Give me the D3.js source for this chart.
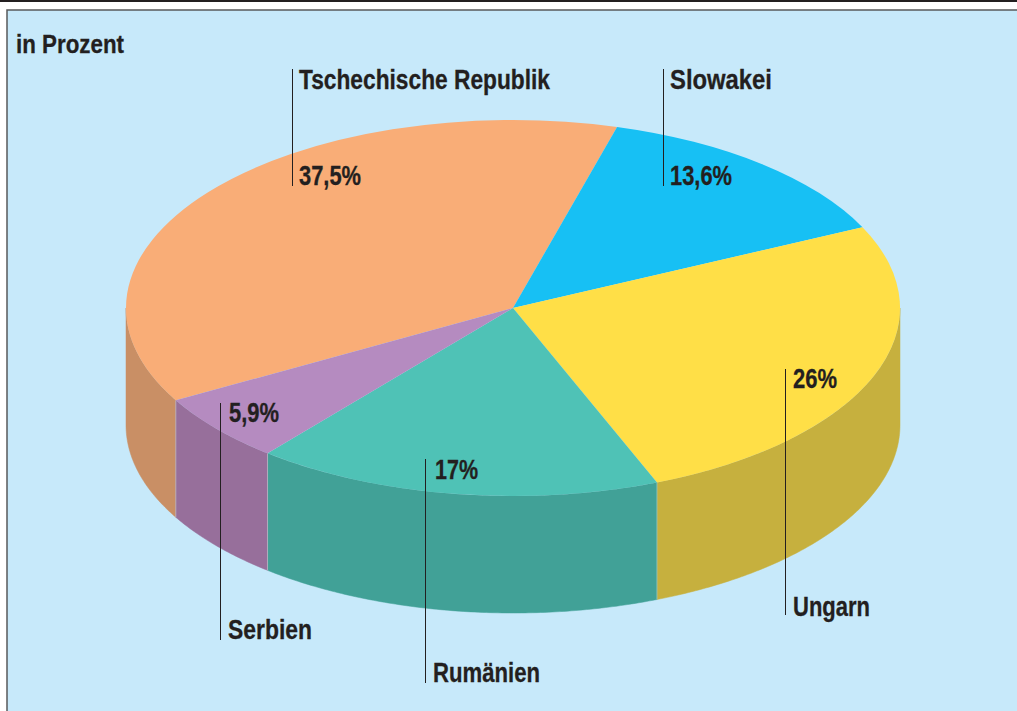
<!DOCTYPE html>
<html>
<head>
<meta charset="utf-8">
<script src="https://cdnjs.cloudflare.com/ajax/libs/d3/7.8.5/d3.min.js"></script>
<style>
html, body { margin: 0; padding: 0; background: #fff; }
svg { display: block; }
text { font-family: "Liberation Sans", sans-serif; font-weight: bold; fill: #231f20; stroke: #231f20; stroke-width: 0.3; }
</style>
</head>
<body>
<div id="chart"></div>
<script>
const categories = ["Tschechische Republik", "Slowakei", "Ungarn", "Rumänien", "Serbien"];
const shares = [37.5, 13.6, 26, 17, 5.9];
const shareLabels = ["37,5%", "13,6%", "26%", "17%", "5,9%"];
const unitLabel = "in Prozent";

const topColors = ["#f9ad77", "#17c0f4", "#ffdf47", "#4fc2b6", "#b58bc0"];
const sideColors = ["#c98f65", "#139bc5", "#c6b03e", "#41a197", "#976f9b"];

const width = 1017;
const height = 711;
const cx = 513, cy = 308;
const rx = 387, ry = 188;
const depth = 117;
const start_angle = 240.6 * Math.PI / 180;

// leader lines and text, one entry per slice. no condensed font installed,
// so the bold one gets squeezed to the widths nameW / shareW
const callouts = [
    {x: 292, y0: 69, y1: 186, nameX: 299, nameY: 89, nameW: 251, shareX: 299, shareY: 185, shareW: 62},
    {x: 663, y0: 69, y1: 186, nameX: 670, nameY: 89, nameW: 102, shareX: 670, shareY: 185, shareW: 62},
    {x: 785, y0: 369, y1: 615, nameX: 793, nameY: 616, nameW: 77, shareX: 793, shareY: 388, shareW: 44},
    {x: 425, y0: 459, y1: 683, nameX: 433, nameY: 682, nameW: 107, shareX: 435, shareY: 479, shareW: 43},
    {x: 220, y0: 403, y1: 640, nameX: 228, nameY: 639, nameW: 84, shareX: 229, shareY: 422, shareW: 50}
];

const svg = d3.select("#chart").append("svg")
    .attr("width", width)
    .attr("height", height);

// page furniture: black rule on top, blue panel with a grey frame
svg.append("rect").attr("x", 0).attr("y", 0).attr("width", width).attr("height", 2).attr("fill", "#231f20");
svg.append("rect").attr("x", 7).attr("y", 10).attr("width", width).attr("height", height)
    .attr("fill", "#c7e9fa").attr("stroke", "#58595b").attr("stroke-width", 1.5);

const pie = d3.pie().sort(null)
    .startAngle(start_angle)
    .endAngle(start_angle + 2 * Math.PI);
const slices = pie(shares);

const arc = d3.arc().innerRadius(0).outerRadius(rx);

// d3 angles run clockwise from 12 o'clock
const edgeX = (a) => cx + rx * Math.sin(a);
const edgeY = (a) => cy - ry * Math.cos(a);

const wallLine = d3.line().x((d) => d[0]).y((d) => d[1]);

/* the visible part of a slice's rim, only the front half (90 to 270 deg) shows */
function wallPath(d) {
    var a0 = Math.max(d.startAngle, Math.PI / 2);
    var a1 = Math.min(d.endAngle, 3 * Math.PI / 2);
    if (a1 <= a0) {
        return null;
    }
    var angles = d3.range(a0, a1, 0.01);
    angles.push(a1);
    var pts = angles.map((a) => [edgeX(a), edgeY(a)]);
    var lower = angles.slice().reverse().map((a) => [edgeX(a), edgeY(a) + depth]);
    return wallLine(pts.concat(lower)) + "Z";
}

// slices past 360 deg have to be checked a second time, shifted back one turn
const walls = [];
slices.forEach((d, i) => {
    [0, -2 * Math.PI].forEach((shift) => {
        var p = wallPath({startAngle: d.startAngle + shift, endAngle: d.endAngle + shift});
        if (p) {
            walls.push({path: p, i: i});
        }
    });
});

svg.append("g").selectAll("path.wall")
    .data(walls)
    .enter()
    .append("path")
    .attr("class", "wall")
    .attr("d", (d) => d.path)
    .attr("fill", (d) => sideColors[d.i])
    .attr("stroke", (d) => sideColors[d.i])
    .attr("stroke-width", 0.5);

// thin light seams between the walls
svg.append("g").selectAll("line.seam")
    .data(slices.filter((d) => {
        var a = d.endAngle % (2 * Math.PI);
        return a > Math.PI / 2 && a < 3 * Math.PI / 2;
    }))
    .enter()
    .append("line")
    .attr("class", "seam")
    .attr("x1", (d) => edgeX(d.endAngle))
    .attr("x2", (d) => edgeX(d.endAngle))
    .attr("y1", (d) => edgeY(d.endAngle))
    .attr("y2", (d) => edgeY(d.endAngle) + depth)
    .attr("stroke", "#d9e6df")
    .attr("stroke-opacity", 0.6)
    .attr("stroke-width", 0.8);

svg.append("g")
    .attr("transform", `translate(${cx},${cy}) scale(1,${ry / rx})`)
    .selectAll("path.top")
    .data(slices)
    .enter()
    .append("path")
    .attr("class", "top")
    .attr("d", arc)
    .attr("fill", (d, i) => topColors[i]);

svg.append("g").selectAll("line.leader")
    .data(callouts)
    .enter()
    .append("line")
    .attr("class", "leader")
    .attr("x1", (d) => d.x + 0.5)
    .attr("x2", (d) => d.x + 0.5)
    .attr("y1", (d) => d.y0)
    .attr("y2", (d) => d.y1)
    .attr("stroke", "#231f20")
    .attr("stroke-width", 1);

svg.append("g").selectAll("text.name")
    .data(callouts)
    .enter()
    .append("text")
    .attr("class", "name")
    .attr("x", (d) => d.nameX)
    .attr("y", (d) => d.nameY)
    .attr("textLength", (d) => d.nameW)
    .attr("lengthAdjust", "spacingAndGlyphs")
    .attr("font-size", 27)
    .text((d, i) => categories[i]);

svg.append("g").selectAll("text.share")
    .data(callouts)
    .enter()
    .append("text")
    .attr("class", "share")
    .attr("x", (d) => d.shareX)
    .attr("y", (d) => d.shareY)
    .attr("textLength", (d) => d.shareW)
    .attr("lengthAdjust", "spacingAndGlyphs")
    .attr("font-size", 27)
    .text((d, i) => shareLabels[i]);

svg.append("text")
    .attr("x", 16)
    .attr("y", 53)
    .attr("textLength", 108)
    .attr("lengthAdjust", "spacingAndGlyphs")
    .attr("font-size", 26)
    .text(unitLabel);
</script>
</body>
</html>
